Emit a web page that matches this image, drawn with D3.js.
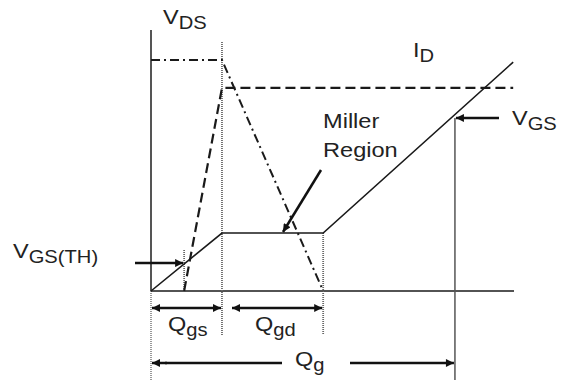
<!DOCTYPE html>
<html><head><meta charset="utf-8">
<script src="https://cdn.jsdelivr.net/npm/d3@7"></script>
<style>body{margin:0;background:#fff}svg{display:block}</style>
</head><body>
<svg id="c" width="561" height="383"></svg>
<script>
// Gate charge (x, normalized 0..100) and voltage/current (y, normalized 0..100)
const vgsCurve = [[0,0],[19.5,22.2],[47.3,22.2],[99.5,87.7]];
const vdsCurve = [[0,88.5],[19.5,88.5],[47.3,0]];
const idCurve  = [[9.1,0],[19.5,77.8],[99.5,77.8]];
const qTh = 9.1, qGs = 19.5, qGdEnd = 47.3, qG = 83.5, qEnd = 100;
const vTh = 10.7, vMark = 66.3, vTop = 100;
const labels = [
  {main:"V", sub:"DS", x:163, y:24},
  {main:"I", sub:"D", x:413, y:57},
  {main:"V", sub:"GS", x:512, y:125},
  {main:"V", sub:"GS(TH)", x:13, y:258},
  {main:"Q", sub:"gs", x:168, y:331},
  {main:"Q", sub:"gd", x:255, y:331},
  {main:"Q", sub:"g", x:295, y:366}
];
const regionText = ["Miller", "Region"];

const svg = d3.select("#c");
const x = d3.scaleLinear().domain([0,100]).range([151,515]);
const y = d3.scaleLinear().domain([0,100]).range([291,30]);
const line = d3.line().x(d=>x(d[0])).y(d=>y(d[1]));

const defs = svg.append("defs");
defs.append("marker").attr("id","ah").attr("viewBox","0 0 10 10").attr("refX",10).attr("refY",5)
  .attr("markerWidth",12).attr("markerHeight",8).attr("markerUnits","userSpaceOnUse").attr("orient","auto-start-reverse")
  .append("path").attr("d","M0,0L10,5L0,10Z").attr("fill","#111");

const ink = "#1a1a1a";
// left axis
svg.append("line").attr("x1",x(0)).attr("x2",x(0)).attr("y1",y(vTop)).attr("y2",y(0)).attr("stroke","#555").attr("stroke-width",2);
svg.append("line").attr("x1",x(0)).attr("x2",x(0)).attr("y1",y(0)).attr("y2",380).attr("stroke","#777").attr("stroke-width",1.5).attr("stroke-dasharray","1,1");
// baseline
svg.append("line").attr("x1",x(0)).attr("x2",x(qEnd)-1).attr("y1",y(0)).attr("y2",y(0)).attr("stroke",ink).attr("stroke-width",1.5);

// dotted verticals
const dot = (q,y1,y2)=>svg.append("line").attr("x1",x(q)).attr("x2",x(q)).attr("y1",y1).attr("y2",y2)
  .attr("stroke","#666").attr("stroke-width",1.8).attr("stroke-dasharray","1,1");
dot(qGs, 42, 335);
dot(qGdEnd, y(22.2), 335);
dot(qTh, 250, y(0));
svg.append("line").attr("x1",x(qG)).attr("x2",x(qG)).attr("y1",y(vMark)).attr("y2",380).attr("stroke","#555").attr("stroke-width",1.5);

// curves
svg.append("path").attr("d",line(vgsCurve)).attr("fill","none").attr("stroke",ink).attr("stroke-width",1.6);
svg.append("path").attr("d",line(idCurve)).attr("fill","none").attr("stroke",ink).attr("stroke-width",2.2).attr("stroke-dasharray","10,5");
svg.append("path").attr("d",line(vdsCurve)).attr("fill","none").attr("stroke",ink).attr("stroke-width",2).attr("stroke-dasharray","9,4,2,4");

// arrows
const arrow = (x1,y1,x2,y2,both)=>{
  const l = svg.append("line").attr("x1",x1).attr("y1",y1).attr("x2",x2).attr("y2",y2)
    .attr("stroke","#111").attr("stroke-width",2.5).attr("marker-end","url(#ah)");
  if(both) l.attr("marker-start","url(#ah)");
};
arrow(135, y(vTh), x(qTh)-1, y(vTh));
arrow(499, y(vMark), x(qG)+1, y(vMark));
arrow(321, 170, 283, 232);
arrow(x(0)+1, 308, x(qGs)-1, 308, true);
arrow(232, 308, x(qGdEnd)-1, 308, true);
svg.append("line").attr("x1",x(0)+14).attr("x2",282).attr("y1",363).attr("y2",363).attr("stroke","#111").attr("stroke-width",2.5);
arrow(x(0)+16, 363, x(0)+1, 363);
arrow(350, 363, x(qG)-1, 363);

// labels
const font = "Liberation Sans, Arial, sans-serif";
labels.forEach(l=>{
  const t = svg.append("text").attr("transform",`translate(${l.x},${l.y}) scale(1.12,1)`)
    .attr("font-family",font).attr("font-size",21).attr("fill","#222");
  t.append("tspan").text(l.main);
  t.append("tspan").attr("dy",5).attr("font-size",18).text(l.sub);
});
regionText.forEach((s,i)=>{
  svg.append("text").attr("transform",`translate(323,${128+i*29}) scale(1.18,1)`)
    .attr("font-family",font).attr("font-size",20).attr("fill","#222").text(s);
});
</script>
</body></html>
